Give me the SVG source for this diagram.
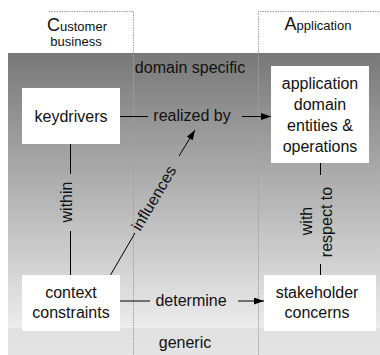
<svg xmlns="http://www.w3.org/2000/svg" width="380" height="355" viewBox="0 0 380 355">
<defs>
<linearGradient id="bg" gradientUnits="userSpaceOnUse" x1="0" y1="53" x2="0" y2="355">
<stop offset="0" stop-color="#787878"/>
<stop offset="0.91" stop-color="#ececec"/>
<stop offset="0.91" stop-color="#e0e0e0"/>
<stop offset="1" stop-color="#e4e4e4"/>
</linearGradient>
<marker id="arr" markerUnits="userSpaceOnUse" markerWidth="10" markerHeight="8" refX="10" refY="3.5" orient="auto">
<path d="M0,0 L10,3.5 L0,7 z" fill="#000"/>
</marker>
<style>
text{font-family:"Liberation Sans",Arial,sans-serif;font-size:16px;fill:#111;text-anchor:middle}
.box{fill:#fff;stroke:none}
.dot{fill:none;stroke:#a0a0a0;stroke-width:1;stroke-dasharray:1.5,1}
.ln{fill:none;stroke:#000;stroke-width:1}
.small{font-size:13px}
.big{font-size:18px}
</style>
</defs>
<rect x="8" y="53" width="372" height="302" fill="url(#bg)"/>
<g id="columns">
<path class="dot" d="M49,11.5 H133.5 V355"/>
<path class="dot" d="M258.5,355 V11.5 H380"/>
<text x="77" y="31" class="small"><tspan class="big">C</tspan>ustomer</text>
<text x="76" y="46" class="small">business</text>
<text x="318" y="30" class="small"><tspan class="big">A</tspan>pplication</text>
<text x="190" y="73">domain specific</text>
<text x="185" y="348">generic</text>
</g>
<g id="connectors">
<line class="ln" x1="120" y1="116.5" x2="148" y2="116.5"/>
<line class="ln" x1="242" y1="116.5" x2="271" y2="116.5" marker-end="url(#arr)"/>
<text x="192" y="121">realized by</text>
<line class="ln" x1="70.5" y1="144" x2="70.5" y2="174"/>
<line class="ln" x1="70.5" y1="231" x2="70.5" y2="275"/>
<text transform="translate(72,202) rotate(-90)">within</text>
<line class="ln" x1="110.5" y1="275" x2="135" y2="233"/>
<line class="ln" x1="179" y1="156" x2="195" y2="130" marker-end="url(#arr)"/>
<text transform="translate(158.5,201) rotate(-59.6)">influences</text>
<line class="ln" x1="120" y1="301" x2="150" y2="301"/>
<line class="ln" x1="238" y1="301" x2="264" y2="301" marker-end="url(#arr)"/>
<text x="191" y="306">determine</text>
<line class="ln" x1="320.5" y1="163" x2="320.5" y2="175"/>
<line class="ln" x1="320.5" y1="264" x2="320.5" y2="275"/>
<text transform="translate(312,221) rotate(-90)">with</text>
<text transform="translate(332,222) rotate(-90)">respect to</text>
</g>
<g id="keydrivers">
<rect class="box" x="22" y="88" width="98" height="56"/>
<text x="71" y="122">keydrivers</text>
</g>
<g id="application">
<rect class="box" x="271" y="66" width="98" height="97"/>
<text x="320" y="89">application</text>
<text x="320" y="110">domain</text>
<text x="320" y="131">entities &amp;</text>
<text x="320" y="152">operations</text>
</g>
<g id="context">
<rect class="box" x="22" y="275" width="98" height="56"/>
<text x="71" y="298">context</text>
<text x="71" y="318">constraints</text>
</g>
<g id="stakeholder">
<rect class="box" x="264" y="275" width="112" height="56"/>
<text x="317" y="298">stakeholder</text>
<text x="317" y="318">concerns</text>
</g>
</svg>
